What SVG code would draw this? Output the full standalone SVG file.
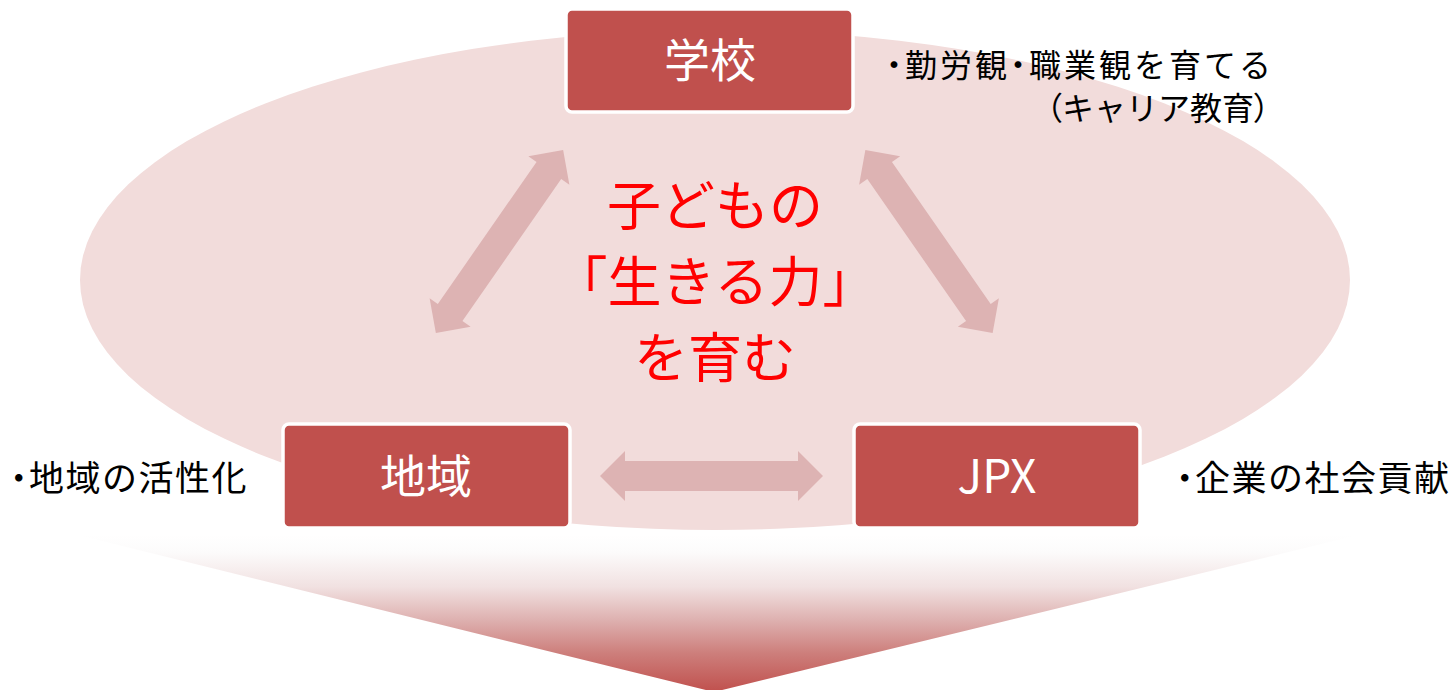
<svg xmlns="http://www.w3.org/2000/svg" xmlns:xlink="http://www.w3.org/1999/xlink" width="1451" height="690" viewBox="0 0 1451 690">
<style>
.box{fill:#C0504D;stroke:#FFFFFF;stroke-width:3.5}
.boxt{fill:#FFFFFF;font-family:"Noto Sans CJK JP","Noto Sans",sans-serif;font-size:46px;text-anchor:middle}
.side{fill:#000000;font-family:"Noto Sans CJK JP","Noto Sans",sans-serif}
.dot{font-feature-settings:"palt"}
.center{fill:#FF0000;font-family:"Noto Sans CJK JP","Noto Sans",sans-serif;font-size:54px;text-anchor:middle}
.arr{fill:#DDB3B3}
</style>
<defs>
<linearGradient id="fade" x1="0" y1="0" x2="0" y2="1">
<stop offset="0" stop-color="#FFFFFF"/>
<stop offset="0.11" stop-color="#FCFBFB"/>
<stop offset="0.33" stop-color="#F1E1E1"/>
<stop offset="0.54" stop-color="#DEB1B0"/>
<stop offset="0.75" stop-color="#CD7F7C"/>
<stop offset="1" stop-color="#C0504D"/>
</linearGradient>
<polygon id="dbl" points="-111.5,0 -86.5,-25 -86.5,-15 86.5,-15 86.5,-25 111.5,0 86.5,25 86.5,15 -86.5,15 -86.5,25"/>
</defs>
<g id="background">
<polygon points="78,535 1358,535 714,692" fill="url(#fade)"/>
<ellipse cx="715" cy="280" rx="635" ry="250" fill="#F2DCDB"/>
</g>
<g id="connectors" class="arr">
<use xlink:href="#dbl" href="#dbl" transform="translate(499.5,241.5) rotate(-55.2)"/>
<use xlink:href="#dbl" href="#dbl" transform="translate(929,241.5) rotate(55.2)"/>
<use xlink:href="#dbl" href="#dbl" transform="translate(711.5,476)"/>
</g>
<g id="center-text" class="center">
<text x="715" y="226">子どもの</text>
<text x="715" y="302">「生きる力」</text>
<text x="715" y="378">を育む</text>
</g>
<g id="node-school">
<rect class="box" x="566" y="9" width="287" height="103" rx="6"/>
<text class="boxt" x="710" y="77">学校</text>
</g>
<g id="node-region">
<rect class="box" x="283" y="424" width="287" height="104" rx="6"/>
<text class="boxt" x="426" y="493">地域</text>
</g>
<g id="node-jpx">
<rect class="box" x="854" y="424" width="286" height="104" rx="6"/>
<text class="boxt" x="997" y="493">JPX</text>
</g>
<g id="labels" class="side">
<text x="886" y="77" font-size="32" letter-spacing="3"><tspan class="dot">・</tspan>勤労観<tspan class="dot">・</tspan>職業観を育てる</text>
<text x="1270" y="120" font-size="32" text-anchor="end"><tspan class="dot">（</tspan>キャリア教育<tspan class="dot">）</tspan></text>
<text x="10" y="491" font-size="35" letter-spacing="1.5"><tspan class="dot">・</tspan>地域の活性化</text>
<text x="1176" y="491" font-size="35" letter-spacing="1.5"><tspan class="dot">・</tspan>企業の社会貢献</text>
</g>
</svg>
